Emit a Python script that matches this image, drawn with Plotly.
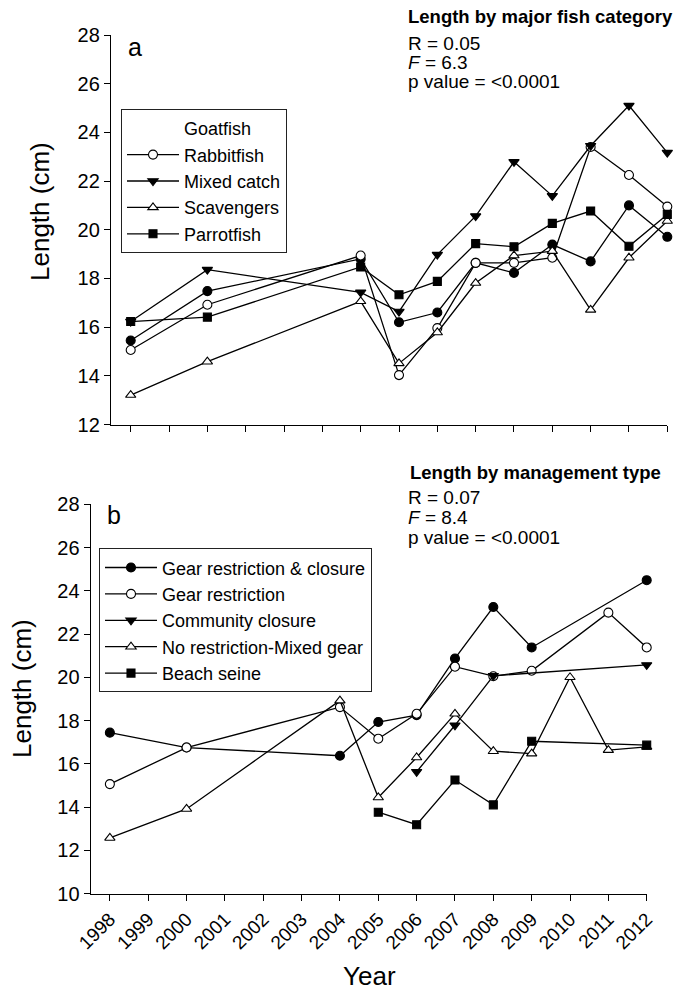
import plotly.graph_objects as go

W, H = 673, 991

# ---------------- data: panel a (length by major fish category) ----------------
years_a = [1998, 2000, 2004, 2005, 2006, 2007, 2008, 2009, 2010, 2011, 2012]
goatfish = [15.45, 17.48, 18.80, 16.20, 16.60, 18.64, 18.23, 19.39, 18.70, 21.00, 19.71]
rabbitfish = [15.06, 16.92, 18.94, 14.03, 15.96, 18.64, 18.64, 18.85, 23.40, 22.25, 20.95]
mixed_catch = [16.23, 18.36, 17.43, 16.64, 18.98, 20.56, 22.79, 21.39, 23.45, 25.10, 23.17]
scavengers = [13.21, 14.58, 17.06, 14.51, 15.78, 17.81, 18.94, 19.12, 16.71, 18.85, 20.36]
parrotfish = [16.23, 16.41, 18.47, 17.33, 17.88, 19.43, 19.30, 20.26, 20.77, 19.32, 20.63]

# ---------------- data: panel b (length by management type) ----------------
grc_years = [1998, 2000, 2004, 2005, 2006, 2007, 2008, 2009, 2012]
gear_restr_closure = [17.44, 16.75, 16.37, 17.93, 18.25, 20.87, 23.25, 21.38, 24.49]
gr_years = [1998, 2000, 2004, 2005, 2006, 2007, 2008, 2009, 2011, 2012]
gear_restr = [15.06, 16.75, 18.62, 17.16, 18.31, 20.49, 20.05, 20.30, 22.99, 21.38]
cc_years = [2006, 2007, 2008, 2012]
community_closure = [15.63, 17.78, 20.07, 20.57]
nr_years = [1998, 2000, 2004, 2005, 2006, 2007, 2008, 2009, 2010, 2011, 2012]
no_restriction = [12.57, 13.91, 18.92, 14.44, 16.29, 18.31, 16.58, 16.47, 20.00, 16.63, 16.78]
bs_years = [2005, 2006, 2007, 2008, 2009, 2012]
beach_seine = [13.76, 13.18, 15.25, 14.10, 17.04, 16.86]

tick_years = list(range(1998, 2013))
tick_labels = [str(y) for y in tick_years]

FONT = "Liberation Sans, Arial, Helvetica, sans-serif"


def px(x):
    return x / W


def py(y):
    return 1 - y / H


def mk(symbol, filled, size=9):
    return dict(symbol=symbol, size=size,
                color="black" if filled else "white",
                line=dict(color="black", width=1.1))


fig = go.Figure()
LW = 1.3

# panel a traces
fig.add_trace(go.Scatter(x=[None], y=[None], name="Goatfish", mode="markers",
                         marker=dict(color="rgba(0,0,0,0)", size=1,
                                     line=dict(width=0, color="rgba(0,0,0,0)")),
                         legend="legend", xaxis="x", yaxis="y"))
fig.add_trace(go.Scatter(x=years_a, y=goatfish, name="Goatfish", mode="lines+markers",
                         line=dict(color="black", width=LW), marker=mk("circle", True),
                         showlegend=False, cliponaxis=False, xaxis="x", yaxis="y"))
for name, vals, sym, filled in [("Rabbitfish", rabbitfish, "circle", False),
                                ("Mixed catch", mixed_catch, "triangle-down", True),
                                ("Scavengers", scavengers, "triangle-up", False),
                                ("Parrotfish", parrotfish, "square", True)]:
    fig.add_trace(go.Scatter(x=years_a, y=vals, name=name, mode="lines+markers",
                             line=dict(color="black", width=LW),
                             marker=mk(sym, filled, 8 if sym == "square" else 9),
                             legend="legend", cliponaxis=False, xaxis="x", yaxis="y"))

# panel b traces
for name, xs, vals, sym, filled in [
        ("Gear restriction & closure", grc_years, gear_restr_closure, "circle", True),
        ("Gear restriction", gr_years, gear_restr, "circle", False),
        ("Community closure", cc_years, community_closure, "triangle-down", True),
        ("No restriction-Mixed gear", nr_years, no_restriction, "triangle-up", False),
        ("Beach seine", bs_years, beach_seine, "square", True)]:
    fig.add_trace(go.Scatter(x=xs, y=vals, name=name, mode="lines+markers",
                             line=dict(color="black", width=LW),
                             marker=mk(sym, filled, 8 if sym == "square" else 9),
                             legend="legend2", cliponaxis=False, xaxis="x2", yaxis="y2"))

axis_common = dict(showline=True, linecolor="black", linewidth=1.3, ticks="outside",
                   ticklen=6, tickwidth=1.3, tickcolor="black", showgrid=False,
                   zeroline=False, fixedrange=True, automargin=False)

fig.update_layout(
    width=W, height=H,
    margin=dict(l=0, r=0, t=0, b=0, autoexpand=False),
    paper_bgcolor="white", plot_bgcolor="white",
    font=dict(family=FONT, color="black"),
    xaxis=dict(domain=[px(111), px(667.3)], range=[1997.486, 2012], anchor="y",
               tickvals=tick_years, showticklabels=False, **axis_common),
    yaxis=dict(domain=[py(424.5), py(35)], range=[12, 28], dtick=2, anchor="x",
               tickfont=dict(size=20), **axis_common),
    xaxis2=dict(domain=[px(90.7), px(646.7)], range=[1997.5, 2012], anchor="y2",
                tickvals=tick_years, ticktext=tick_labels, tickangle=-45,
                tickfont=dict(size=19), **axis_common),
    yaxis2=dict(domain=[py(893.5), py(504.3)], range=[10, 28], dtick=2, anchor="x2",
                tickfont=dict(size=20), **axis_common),
    legend=dict(x=px(121), y=py(109), xanchor="left", yanchor="top",
                bordercolor="#222", borderwidth=1, bgcolor="white",
                font=dict(size=18), itemwidth=52, tracegroupgap=0),
    legend2=dict(x=px(99), y=py(548.3), xanchor="left", yanchor="top",
                 bordercolor="#222", borderwidth=1, bgcolor="white",
                 font=dict(size=18), itemwidth=52, tracegroupgap=0),
    showlegend=True,
)

ann = []


def add_text(text, x, y, size, xanchor="left", yanchor="middle", angle=0):
    ann.append(dict(text=text, x=px(x), y=py(y), xref="paper", yref="paper",
                    xanchor=xanchor, yanchor=yanchor, showarrow=False,
                    textangle=angle, font=dict(size=size, family=FONT, color="black")))


add_text("<b>Length by major fish category</b>", 406, 16, 18.5)
add_text("R = 0.05", 406, 43.5, 19)
add_text("<i>F</i> = 6.3", 406, 62, 19)
add_text("p value = &lt;0.0001", 406, 81.5, 19)
add_text("a", 126, 47, 25)

add_text("<b>Length by management type</b>", 408, 472, 18.5)
add_text("R = 0.07", 406, 497.5, 19)
add_text("<i>F</i> = 8.4", 406, 517, 19)
add_text("p value = &lt;0.0001", 406, 537, 19)
add_text("b", 105, 515, 25)

add_text("Length (cm)", 40, 212, 26, xanchor="center", angle=-90)
add_text("Length (cm)", 22, 689, 26, xanchor="center", angle=-90)
add_text("Year", 369, 976, 26, xanchor="center")

fig.update_layout(annotations=ann)

fig.write_html("out.html")
